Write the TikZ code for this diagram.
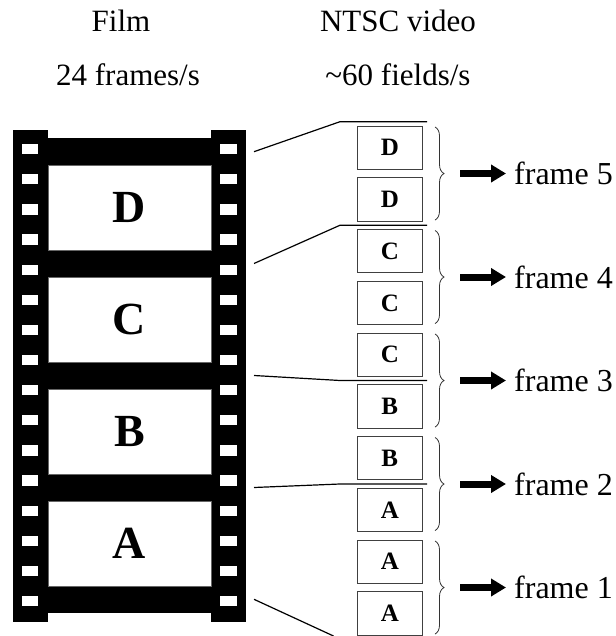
\documentclass[tikz,border=0pt]{standalone}
\usepackage{fontspec}
\setmainfont{Liberation Serif}
\usetikzlibrary{arrows.meta,decorations.pathreplacing}

\begin{document}
\begin{tikzpicture}[x=1pt,y=-1pt,
  captext/.style={font=\fontsize{31}{36}\selectfont, inner sep=0, anchor=base},
  bigletter/.style={font=\fontsize{46}{50}\selectfont\bfseries, inner sep=0},
  filmframe/.style={fill=white, draw=black!60, line width=0.4pt, minimum width=163pt, minimum height=85pt, inner sep=0},
  fieldbox/.style={draw=black!75, line width=0.9pt, minimum width=65pt, minimum height=43.3pt, inner sep=0, font=\fontsize{25}{28}\selectfont\bfseries},
  link/.style={line width=1.2pt},
  fbrace/.style={decorate, decoration={brace, amplitude=9pt}, line width=0.8pt, draw=black!80},
  fatarrow/.style={line width=7pt, -{Triangle[length=15pt,width=17pt]}},
  framelabel/.style={font=\fontsize{32}{36}\selectfont, inner sep=0, anchor=west}
]
\useasboundingbox (0,0) rectangle (615,636);

% column headings
\node[captext] (hfilm) at (121,31.7) {Film};
\node[captext] (hrate) at (128,86) {24 frames/s};
\node[captext] (hntsc) at (398,31.7) {NTSC video};
\node[captext] (hfield) at (398,86) {\char`\~60 fields/s};

% film strip
\fill (12.5,130) rectangle (246,621.7);
\fill[white] (48,130) rectangle (211,138.3);
\fill[white] (48,612.7) rectangle (211,621.7);
\foreach \k in {0,...,15}{
  \fill[white] (21.7,{144+30.13*\k}) rectangle (38.3,{154.3+30.13*\k});
  \fill[white] (220,{144+30.13*\k}) rectangle (236.7,{154.3+30.13*\k});
}
\foreach \t/\l in {165/D,277/C,389/B,501/A}{
  \node[filmframe] (frame\l) at (129.5,{\t+42.5}) {};
  \node[bigletter] (letter\l) at (frame\l) {\l};
}

% video fields
\foreach \i/\l in {0/D,1/D,2/C,3/C,4/C,5/B,6/B,7/A,8/A,9/A}{
  \node[fieldbox] (field\i) at (389.8,{126+51.75*\i+21.65}) {\l};
}

% film frame boundaries mapped to field boundaries
\coordinate (s1) at (254,151.7);  \coordinate (m1) at (340,121.7);  \coordinate (e1) at (427,121.7);
\coordinate (s2) at (254,263.5);  \coordinate (m2) at (340,225.25); \coordinate (e2) at (427,225.25);
\coordinate (s3) at (254,375.5);  \coordinate (m3) at (340,380.5);  \coordinate (e3) at (427,380.5);
\coordinate (s4) at (254,487.5);  \coordinate (m4) at (340,484);    \coordinate (e4) at (427,484);
\coordinate (s5) at (254,599.3);  \coordinate (m5) at (333.5,636);
\draw[link] (s1) -- (m1) -- (e1);
\draw[link] (s2) -- (m2) -- (e2);
\draw[link] (s3) -- (m3) -- (e3);
\draw[link] (s4) -- (m4) -- (e4);
\draw[link] (s5) -- (m5);

% field pairs forming video frames
\foreach \k/\n in {0/5,1/4,2/3,3/2,4/1}{
  \coordinate (bt\n) at (435,{127+103.5*\k});
  \coordinate (bb\n) at (435,{126+103.5*\k+51.75+43.3-1});
  \draw[fbrace] (bt\n) -- (bb\n);
  \coordinate (as\n) at (460,{173.5+103.5*\k});
  \node[framelabel] (vf\n) at (514,{173.5+103.5*\k}) {frame \n};
  \draw[fatarrow] (as\n) -- ([xshift=-8pt]vf\n.west);
}
\end{tikzpicture}
\end{document}
